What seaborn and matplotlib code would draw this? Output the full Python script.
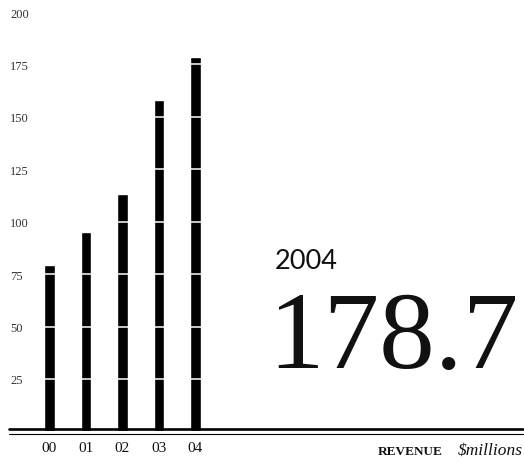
import matplotlib
matplotlib.use("Agg")
import matplotlib.pyplot as plt
import seaborn as sns
import pandas as pd

# ---- data ----
years = ["00", "01", "02", "03", "04"]
revenue = [79.2, 95.0, 113.2, 157.9, 178.7]
ytick_values = [25, 50, 75, 100, 125, 150, 175, 200]
ytick_labels = ["25", "50", "75", "100", "125", "150", "175", "200"]
highlight_year = "2004"
highlight_value = "178.7"
caption_main = "REVENUE"
caption_unit = "$millions"

sns.set_theme(style="white")
plt.rcParams["font.family"] = ["Liberation Serif", "DejaVu Serif"]

W, H = 524, 464
fig = plt.figure(figsize=(W / 100, H / 100), dpi=100)
fig.patch.set_facecolor("white")

# axes: y=0 at pixel 432.4, y=200 at pixel 13 ; x categories centred 49.5 .. 195.5 px
ax = fig.add_axes([0, (H - 432.4) / H, 1, (432.4 - 13.0) / H])
ax.set_facecolor("white")

df = pd.DataFrame({"year": years, "revenue": revenue})
sns.barplot(data=df, x="year", y="revenue", order=years, color="black",
            saturation=1, width=0.30, ax=ax)

step = 36.5
ax.set_xlim(-49.5 / step, (W - 49.5) / step)
ax.set_ylim(0, 200)
for s in ax.spines.values():
    s.set_visible(False)
ax.set_xlabel("")
ax.set_ylabel("")

# y ticks inside on the left, white grid stripes across the bars
ax.set_yticks(ytick_values)
ax.set_yticklabels(ytick_labels)
ax.tick_params(axis="y", length=0, pad=-7.2, labelsize=9, labelcolor="#333333")
for lbl in ax.get_yticklabels():
    lbl.set_horizontalalignment("left")
ax.set_axisbelow(False)
ax.yaxis.grid(True, color="white", linewidth=1.1)
ax.xaxis.grid(False)

ax.tick_params(axis="x", length=0, pad=7.0, labelsize=11, labelcolor="#111111")

# double baseline rule
ax.axhline(1.1, xmin=9 / W, xmax=523 / W, color="black", lw=1.9, zorder=4,
           clip_on=False)
ax.axhline(-1.25, xmin=9 / W, xmax=523 / W, color="black", lw=0.8, zorder=4,
           clip_on=False)

# annotations
fig.text(275 / W, (H - 269) / H, highlight_year, fontsize=19.5,
         family=["Lato", "DejaVu Sans"], color="#111111",
         ha="left", va="baseline")
fig.text(519 / W, (H - 368) / H, highlight_value, fontsize=80,
         family=["Liberation Serif", "DejaVu Serif"], color="#111111",
         ha="right", va="baseline")
fig.text(443 / W, (H - 455) / H, caption_main, fontsize=9.5, fontweight="bold",
         color="#111111", ha="right", va="baseline")
fig.text(523 / W, (H - 455) / H, caption_unit, fontsize=12.5, style="italic",
         color="#111111", ha="right", va="baseline")

fig.savefig("out.png", dpi=100, facecolor="white")
